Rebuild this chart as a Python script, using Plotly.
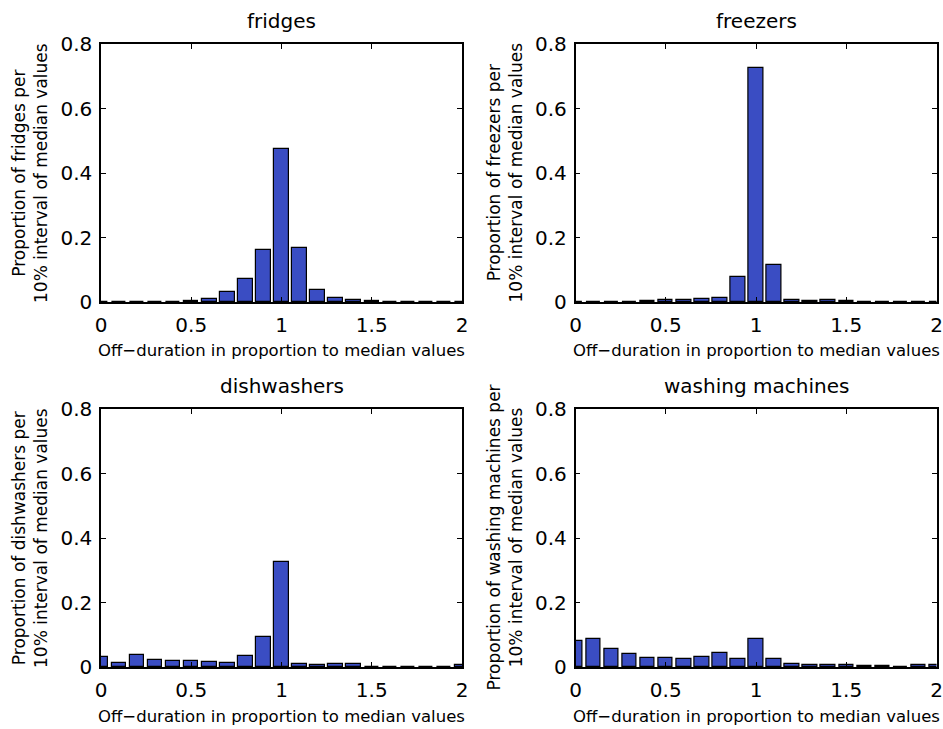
import plotly.graph_objects as go

# ---- data ----
bin_centers = [round(0.1 * i, 1) for i in range(21)]
fridges = [0.0, 0.0, 0.0, 0.0, 0.001, 0.002, 0.008, 0.032, 0.070, 0.160, 0.475,
           0.169, 0.038, 0.012, 0.006, 0.002, 0.001, 0.0, 0.0, 0.0, 0.0]
freezers = [0.0, 0.0, 0.0, 0.001, 0.003, 0.005, 0.007, 0.010, 0.013, 0.076, 0.727,
            0.114, 0.005, 0.002, 0.005, 0.002, 0.001, 0.0, 0.0, 0.0, 0.0]
dishwashers = [0.032, 0.013, 0.038, 0.023, 0.020, 0.020, 0.017, 0.013, 0.035, 0.094, 0.327,
               0.010, 0.005, 0.008, 0.008, 0.001, 0.001, 0.001, 0.001, 0.001, 0.006]
washing_machines = [0.081, 0.088, 0.055, 0.040, 0.029, 0.028, 0.025, 0.030, 0.042, 0.024, 0.088,
                    0.024, 0.008, 0.006, 0.006, 0.006, 0.004, 0.004, 0.001, 0.007, 0.007]
titles = ["fridges", "freezers", "dishwashers", "washing machines"]
x_ticks = [0, 0.5, 1, 1.5, 2]
x_tick_labels = ["0", "0.5", "1", "1.5", "2"]
y_ticks = [0, 0.2, 0.4, 0.6, 0.8]
y_tick_labels = ["0", "0.2", "0.4", "0.6", "0.8"]
x_label = "Off\u2212duration in proportion to median values"

series = [fridges, freezers, dishwashers, washing_machines]

W, H = 943, 729
FONT = "DejaVu Sans"
BAR_COLOR = "#3a4dc3"

# pixel boxes in window coordinates (left, right, top, bottom)
boxes = [
    (101, 462, 44, 302),
    (575.5, 936.5, 44, 302),
    (101, 462, 409, 667),
    (575.5, 936.5, 409, 667),
]


def px(v):
    return v / W


def py(v):
    return 1 - v / H


fig = go.Figure()
annotations = []
for i, (vals, title, box) in enumerate(zip(series, titles, boxes)):
    n = "" if i == 0 else str(i + 1)
    l, r, t, b = box
    fig.add_trace(go.Bar(
        x=bin_centers, y=vals, width=0.08,
        marker=dict(color=BAR_COLOR, line=dict(color="black", width=1.2)),
        xaxis="x" + n, yaxis="y" + n, showlegend=False,
    ))
    axcommon = dict(showline=True, linecolor="black", linewidth=1.5, mirror="ticks",
                    ticks="inside", ticklen=5, tickwidth=1, tickcolor="black",
                    showgrid=False, zeroline=False, automargin=False,
                    ticklabeloverflow="allow",
                    tickfont=dict(family=FONT, size=20, color="black"))
    fig.update_layout(**{
        "xaxis" + n: dict(domain=[px(l), px(r)], range=[0, 2], anchor="y" + n,
                          tickvals=x_ticks, ticktext=x_tick_labels,
                          ticklabelstandoff=4, **axcommon),
        "yaxis" + n: dict(domain=[py(b), py(t)], range=[0, 0.8], anchor="x" + n,
                          tickvals=y_ticks, ticktext=y_tick_labels,
                          ticklabelstandoff=3, **axcommon),
    })
    cx = (l + r) / 2
    cy = (t + b) / 2
    annotations.append(dict(text=title, x=px(cx), y=py(t - 23), xref="paper", yref="paper",
                            xanchor="center", yanchor="middle", showarrow=False,
                            font=dict(family=FONT, size=20, color="black")))
    annotations.append(dict(text=x_label, x=px(cx), y=py(b + 49), xref="paper", yref="paper",
                            xanchor="center", yanchor="middle", showarrow=False,
                            font=dict(family=FONT, size=16.5, color="black")))
    ylab = "Proportion of " + title + " per<br>10% interval of median values"
    annotations.append(dict(text=ylab, x=px(l - 71), y=py(cy), xref="paper", yref="paper",
                            xanchor="center", yanchor="middle", showarrow=False, textangle=-90,
                            font=dict(family=FONT, size=17, color="black")))

fig.update_layout(
    width=W, height=H, margin=dict(l=0, r=0, t=0, b=0),
    paper_bgcolor="white", plot_bgcolor="white",
    bargap=0, annotations=annotations,
)

fig.write_html(
    "out.html",
    config={"displayModeBar": False},
    post_script="document.body.style.margin='0';document.body.style.overflow='hidden';",
)
